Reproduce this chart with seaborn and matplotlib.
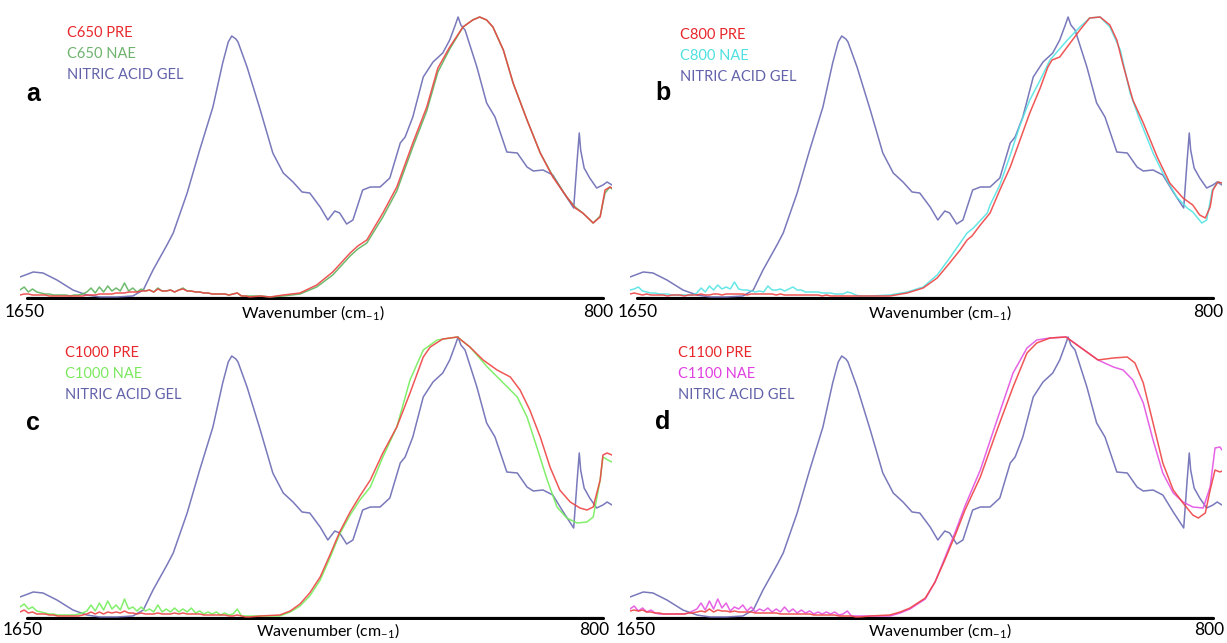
import matplotlib
matplotlib.use("Agg")
import matplotlib.pyplot as plt
import numpy as np
import pandas as pd
import seaborn as sns

# ---------------- data (wavenumber in cm-1, intensity in arbitrary units) -------------
NOISE_WN = [1650, 1644, 1638, 1632, 1626, 1620, 1614, 1608, 1602, 1596,
            1590, 1584, 1578, 1572, 1566, 1560, 1554, 1548, 1542, 1536,
            1530, 1524, 1518, 1512, 1506, 1500, 1494, 1488, 1482, 1476,
            1470, 1464, 1458, 1452, 1446, 1440, 1434, 1428, 1422, 1416,
            1410, 1404, 1398, 1392, 1386, 1380, 1374, 1368, 1362, 1356,
            1350, 1344, 1338, 1332, 1326, 1320]

NITRIC_WN = [1650, 1631, 1617, 1597, 1574, 1554, 1535, 1511, 1488, 1473,
             1459, 1439, 1430, 1410, 1392, 1373, 1359, 1351, 1346, 1340,
             1337, 1324,
             1305, 1287, 1272, 1258, 1245, 1234, 1219, 1208, 1198, 1191,
             1181, 1172, 1158, 1147, 1133, 1119, 1104, 1097, 1086, 1071,
             1057, 1043, 1033, 1025, 1021, 1017, 1011, 994, 980, 968, 951, 936,
             922, 913, 899, 885, 870, 855, 850, 847, 845, 840,
             832, 822, 813, 807, 800]
NITRIC_GEL = [20, 25, 24, 17, 7, 2, 0, 0, 1, 7,
              27, 52, 64, 104, 147, 190, 234, 255, 261, 258,
              255, 230,
              187, 144, 124, 115, 105, 104, 90, 77, 86, 84,
              73, 77, 107, 110, 110, 119, 154, 160, 180, 220,
              235, 244, 257, 272, 280, 272, 267, 230, 194, 180, 145, 144,
              130, 126, 127, 122, 105, 89, 137, 164, 147, 129,
              119, 109, 112, 115, 112]

# C650
C650_PRE_BASE = [2, 3, 3, 2, 2, 2, 2, 1, 1, 1, 1, 1, 1, 1, 1, 1, 2, 2, 2, 3,
                 3, 3, 3, 4, 4, 4, 5, 5, 5, 6, 6, 7, 5, 8, 6, 6, 7, 5, 7, 8,
                 6, 6, 5, 5, 4, 4, 3, 3, 3, 3, 2, 3, 4, 1, 1, 0]
C650_NAE_BASE = [7, 10, 5, 8, 5, 4, 3, 3, 2, 2, 2, 2, 1, 2, 2, 3, 5, 9, 4, 10,
                 5, 11, 6, 9, 6, 14, 6, 9, 5, 8, 6, 7, 5, 9, 6, 6, 7, 5, 7, 9,
                 6, 6, 5, 5, 4, 4, 3, 3, 3, 3, 2, 3, 4, 1, 1, 1]
C650_TAIL_WN = [1305, 1291, 1272, 1248, 1224, 1201, 1176, 1165, 1152, 1129,
                1109, 1086, 1066, 1050, 1033, 1014, 1000, 990, 980, 971, 956, 942,
                922, 903, 885, 865, 853, 842, 827, 817, 810, 803, 800]
C650_PRE_TAIL = [1, 0, 2, 4, 12, 25, 44, 51, 57, 84,
                 110, 154, 190, 229, 250, 270, 277, 280, 277, 270, 247, 214,
                 177, 144, 120, 100, 89, 84, 74, 80, 107, 110, 109]
C650_NAE_TAIL = [1, 0, 1, 3, 10, 22, 41, 48, 54, 80,
                 106, 150, 186, 225, 248, 270, 277, 280, 277, 270, 247, 214,
                 177, 144, 121, 100, 90, 84, 74, 81, 104, 110, 108]

# C800
C800_PRE_BASE = [3, 4, 3, 2, 3, 2, 2, 2, 2, 1, 2, 2, 2, 1, 2, 2, 2, 3, 2, 2,
                 3, 3, 2, 3, 3, 3, 3, 3, 2, 3, 3, 3, 3, 3, 3, 2, 3, 2, 2, 2,
                 2, 2, 2, 2, 2, 2, 1, 2, 1, 1, 1, 1, 1, 1, 1, 1]
C800_NAE_BASE = [7, 8, 10, 6, 5, 4, 4, 3, 3, 3, 2, 2, 2, 2, 2, 2, 4, 9, 5, 11,
                 7, 12, 8, 10, 8, 15, 8, 7, 7, 6, 5, 6, 5, 11, 7, 7, 8, 6, 8, 10,
                 7, 7, 5, 5, 5, 5, 4, 4, 4, 3, 3, 3, 5, 4, 2, 1]
C800_PRE_TAIL_WN = [1305, 1277, 1252, 1229, 1209, 1191, 1176, 1166, 1159, 1147,
                    1133, 1119, 1104, 1090, 1076, 1061, 1050, 1044, 1033, 1018,
                    1004, 990, 975, 961, 951, 942, 928, 913, 893, 875,
                    856, 842, 832, 824, 817, 813, 806, 800]
C800_PRE_TAIL = [1, 1, 4, 9, 19, 34, 47, 57, 61, 72,
                 84, 107, 130, 157, 184, 209, 230, 237, 240, 254,
                 267, 279, 280, 272, 257, 232, 197, 174, 140, 114,
                 99, 92, 82, 79, 90, 107, 115, 114]
C800_NAE_TAIL_WN = [1305, 1277, 1252, 1229, 1209, 1191, 1176, 1166, 1157, 1137,
                    1133, 1119, 1104, 1090, 1076, 1061, 1047, 1022, 1004, 990,
                    975, 961, 946, 932, 918, 899, 885, 865, 850, 842,
                    829, 822, 814, 806, 800]
C800_NAE_TAIL = [1, 2, 5, 10, 22, 39, 54, 64, 69, 84,
                 92, 112, 142, 172, 197, 217, 237, 257, 270, 279,
                 280, 270, 247, 204, 177, 144, 124, 100, 89, 85,
                 74, 77, 107, 115, 114]

# C1000
C1000_PRE_BASE = [5, 7, 4, 5, 3, 3, 3, 2, 2, 1, 1, 1, 1, 1, 1, 2, 3, 5, 3, 5,
                  3, 5, 4, 5, 4, 6, 4, 4, 3, 4, 3, 3, 3, 4, 3, 3, 3, 4, 3, 4,
                  3, 3, 3, 3, 2, 2, 2, 2, 2, 2, 1, 1, 2, 1, 0, 0]
C1000_NAE_BASE = [10, 13, 8, 10, 6, 5, 4, 3, 3, 2, 2, 2, 2, 2, 3, 4, 6, 12, 6, 14,
                  7, 16, 8, 12, 7, 18, 8, 10, 6, 10, 6, 8, 5, 12, 5, 8, 5, 9, 5, 8,
                  5, 9, 4, 6, 3, 5, 3, 5, 2, 4, 2, 3, 8, 1, 1, 1]
C1000_PRE_TAIL_WN = [1305, 1277, 1262, 1248, 1234, 1219, 1205, 1191, 1176, 1162,
                     1147, 1129, 1109, 1090, 1071, 1061, 1043, 1022, 1004, 985,
                     965, 946, 932, 918, 903, 889, 875, 860, 846, 836,
                     827, 817, 813, 807, 800]
C1000_PRE_TAIL = [1, 2, 6, 13, 24, 40, 62, 85, 105, 121,
                  137, 164, 190, 224, 260, 270, 278, 280, 270, 257,
                  247, 240, 227, 207, 180, 150, 127, 115, 109, 107,
                  110, 137, 162, 164, 162]
C1000_NAE_TAIL_WN = [1305, 1277, 1262, 1248, 1234, 1219, 1205, 1191, 1176, 1162,
                     1147, 1129, 1109, 1090, 1071, 1051, 1022, 1004, 979, 956,
                     936, 922, 908, 893, 879, 865, 850, 836, 827, 817,
                     813, 806, 800]
C1000_NAE_TAIL = [1, 1, 5, 11, 21, 37, 59, 83, 102, 117,
                  130, 160, 190, 237, 267, 277, 280, 270, 250, 234,
                  220, 200, 170, 137, 110, 99, 94, 95, 100, 137,
                  160, 157, 155]

# C1100
C1100_PRE_BASE = [6, 7, 6, 7, 5, 5, 4, 4, 3, 3, 3, 3, 3, 3, 4, 4, 5, 6, 5, 8,
                  5, 7, 6, 6, 5, 6, 5, 5, 5, 5, 4, 4, 4, 4, 4, 4, 3, 3, 3, 3,
                  3, 3, 3, 3, 2, 2, 2, 2, 2, 2, 1, 1, 1, 1, 0, 0]
C1100_NAE_BASE = [8, 11, 6, 9, 5, 7, 4, 3, 3, 3, 3, 3, 3, 3, 4, 6, 8, 14, 7, 16,
                  8, 18, 9, 14, 6, 10, 8, 12, 6, 10, 5, 8, 6, 9, 5, 8, 5, 10, 5, 8,
                  4, 7, 4, 6, 3, 5, 3, 5, 3, 5, 2, 3, 6, 1, 1, 1]
C1100_PRE_TAIL_WN = [1305, 1277, 1262, 1248, 1226, 1212, 1198, 1183, 1169, 1147,
                     1123, 1100, 1080, 1066, 1047, 1024, 1004, 978, 956, 936,
                     925, 913, 899, 885, 870, 856, 842, 834, 824, 817,
                     810, 803, 800]
C1100_PRE_TAIL = [1, 2, 5, 9, 19, 35, 57, 82, 107, 140,
                  187, 230, 264, 274, 279, 280, 270, 257, 259, 260,
                  254, 234, 194, 154, 127, 114, 102, 99, 104, 127,
                  147, 145, 146]
C1100_NAE_TAIL_WN = [1305, 1277, 1262, 1248, 1226, 1212, 1198, 1183, 1169, 1147,
                     1123, 1100, 1080, 1066, 1047, 1024, 1004, 978, 956, 942,
                     928, 913, 899, 885, 870, 856, 842, 827, 817, 810,
                     803, 800]
C1100_NAE_TAIL = [1, 1, 4, 8, 18, 35, 59, 85, 111, 147,
                  197, 244, 269, 277, 279, 280, 270, 257, 250, 247,
                  237, 214, 177, 144, 124, 115, 110, 109, 130, 169,
                  170, 167]

PANEL_LETTERS = ["a", "b", "c", "d"]
PRE_NAMES = ["C650 PRE", "C800 PRE", "C1000 PRE", "C1100 PRE"]
NAE_NAMES = ["C650 NAE", "C800 NAE", "C1000 NAE", "C1100 NAE"]
GEL_NAME = "NITRIC ACID GEL"
X_LEFT_LABEL = "1650"
X_RIGHT_LABEL = "800"
X_TITLE = "Wavenumber (cm$_{\\mathregular{-1}}$)"

# ---------------- styling ---------------------------------------------------------------
sns.set_theme(style="white")
plt.rcParams['font.family'] = ['Lato', 'DejaVu Sans']
plt.rcParams['mathtext.fontset'] = 'custom'
plt.rcParams['mathtext.rm'] = 'Lato'

PRE_COLOR = "#ee4444"
GEL_COLOR = "#6a6ab4"
NAE_COLORS = ["#5fb35f", "#55e4e4", "#74ee5c", "#e452e4"]
PRE_TEXT = "#e8262b"
GEL_TEXT = "#6262aa"
NAE_TEXT = ["#6db36d", "#4fe0e0", "#7ce860", "#e040e0"]

W, H = 1227, 643
fig = plt.figure(figsize=(W / 100, H / 100), dpi=100)
fig.patch.set_facecolor("white")

# pixel boxes (x0, x1, ytop, ybot)
boxes = [(20, 612, 10, 300), (630, 1222, 10, 300),
         (20, 612, 330, 620), (630, 1222, 330, 620)]

panel_data = [
    (C650_PRE_BASE, C650_TAIL_WN, C650_PRE_TAIL, C650_NAE_BASE, C650_TAIL_WN, C650_NAE_TAIL),
    (C800_PRE_BASE, C800_PRE_TAIL_WN, C800_PRE_TAIL, C800_NAE_BASE, C800_NAE_TAIL_WN, C800_NAE_TAIL),
    (C1000_PRE_BASE, C1000_PRE_TAIL_WN, C1000_PRE_TAIL, C1000_NAE_BASE, C1000_NAE_TAIL_WN, C1000_NAE_TAIL),
    (C1100_PRE_BASE, C1100_PRE_TAIL_WN, C1100_PRE_TAIL, C1100_NAE_BASE, C1100_NAE_TAIL_WN, C1100_NAE_TAIL),
]

legend_y = [(33, 54, 75), (35, 56, 77), (353, 374, 395), (353, 374, 395)]
legend_x = [67, 680, 65, 678]
letter_pos = [(33, 94), (663, 93), (33, 423), (663, 422)]
left_lbl = [(25, 312), (638, 312), (23, 630), (636, 630)]
right_lbl = [(598, 312), (1208, 312), (594, 630), (1209, 630)]
title_lbl = [(313, 313), (940, 313), (328, 631), (940, 631)]


def fx(px):
    return px / W


def fy(py):
    return 1 - py / H


for i, (box, pdata) in enumerate(zip(boxes, panel_data)):
    x0, x1, yt, yb = box
    ax = fig.add_axes([fx(x0), fy(yb), (x1 - x0) / W, (yb - yt) / H])
    pre_base, pre_wn, pre_tail, nae_base, nae_wn, nae_tail = pdata
    df = pd.concat([
        pd.DataFrame({"wn": NITRIC_WN, "I": NITRIC_GEL, "s": GEL_NAME}),
        pd.DataFrame({"wn": NOISE_WN + nae_wn, "I": nae_base + nae_tail, "s": NAE_NAMES[i]}),
        pd.DataFrame({"wn": NOISE_WN + pre_wn, "I": pre_base + pre_tail, "s": PRE_NAMES[i]}),
    ], ignore_index=True)
    palette = {GEL_NAME: GEL_COLOR, NAE_NAMES[i]: NAE_COLORS[i], PRE_NAMES[i]: PRE_COLOR}
    ax.axhline(-1, xmin=7 / 592, xmax=583 / 592, color="black", lw=2.3, zorder=1)
    sns.lineplot(data=df, x="wn", y="I", hue="s", palette=palette, estimator=None,
                 lw=1.1, ax=ax, legend=False, zorder=3, alpha=0.9)
    ax.set_xlim(1650, 800)
    ax.set_ylim(-3, 287)
    ax.axis("off")

    lx = legend_x[i]
    ly = legend_y[i]
    fig.text(fx(lx), fy(ly[0]), PRE_NAMES[i], color=PRE_TEXT, fontsize=10.5, ha="left", va="center")
    fig.text(fx(lx), fy(ly[1]), NAE_NAMES[i], color=NAE_TEXT[i], fontsize=10.5, ha="left", va="center")
    fig.text(fx(lx), fy(ly[2]), GEL_NAME, color=GEL_TEXT, fontsize=10.5, ha="left", va="center")
    fig.text(fx(letter_pos[i][0]), fy(letter_pos[i][1]), PANEL_LETTERS[i], fontsize=18,
             fontweight="bold", color="black", ha="center", va="center",
             family=["Liberation Sans", "DejaVu Sans"])
    fig.text(fx(left_lbl[i][0]), fy(left_lbl[i][1]), X_LEFT_LABEL, fontsize=12.5,
             ha="center", va="center", color="black")
    fig.text(fx(right_lbl[i][0]), fy(right_lbl[i][1]), X_RIGHT_LABEL, fontsize=12.5,
             ha="center", va="center", color="black")
    fig.text(fx(title_lbl[i][0]), fy(title_lbl[i][1]), X_TITLE, fontsize=11.5,
             ha="center", va="center", color="black")

fig.savefig("out.png", dpi=100, facecolor="white")
